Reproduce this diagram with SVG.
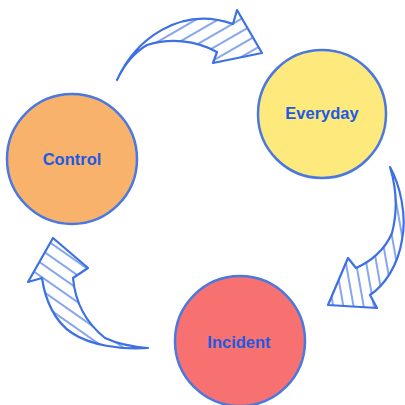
<svg xmlns="http://www.w3.org/2000/svg" width="405" height="405" viewBox="0 0 405 405">
<defs>
<pattern id="hTop" patternUnits="userSpaceOnUse" width="11" height="11" patternTransform="rotate(-30)"><line x1="0" y1="5" x2="11" y2="5" stroke="#3f72e4" stroke-width="1.5" stroke-opacity="0.85"/></pattern>
<pattern id="hRight" patternUnits="userSpaceOnUse" width="10" height="10" patternTransform="rotate(80)"><line x1="0" y1="5" x2="10" y2="5" stroke="#3f72e4" stroke-width="1.5" stroke-opacity="0.85"/></pattern>
<pattern id="hLeft" patternUnits="userSpaceOnUse" width="11" height="11" patternTransform="rotate(35)"><line x1="0" y1="5" x2="11" y2="5" stroke="#3f72e4" stroke-width="1.5" stroke-opacity="0.85"/></pattern>
</defs>
<style>
.node{stroke:#4a78e0;stroke-width:2.5}
.lbl{font-family:"Comic Sans MS","Liberation Sans",sans-serif;font-weight:bold;font-size:16.5px;fill:#1d5ae3;text-anchor:middle;dominant-baseline:central}
.arr{stroke:#3d70e3;stroke-width:2.2;stroke-linejoin:round;stroke-linecap:round}
</style>
<rect width="405" height="405" fill="#ffffff"/>
<g id="connectors">
<path class="arr" fill="url(#hTop)" d="M117,80 C135,40 180,5 233,24 L237,10 L262,53 L213,63 L217,52 C195,40 170,38 147,45 C135,52 124,65 117,80 Z"/>
<path class="arr" fill="url(#hRight)" d="M390,167 C400,185 407,215 402,240 C398,265 385,285 370,295 L377,308 L328,305 L348,258 L356,268 C370,262 385,250 392,233 C398,210 397,190 390,167 Z"/>
<path class="arr" fill="url(#hLeft)" d="M148,348 C120,350 90,345 72,333 C55,322 45,300 42,278 L28,282 L53,238 L88,268 L73,278 C75,300 85,322 105,338 C120,345 135,347 148,348 Z"/>
</g>
<g id="control">
<circle class="node" cx="72" cy="159" r="65" fill="#f9b26b"/>
<text class="lbl" x="72" y="159">Control</text>
</g>
<g id="everyday">
<circle class="node" cx="322" cy="114" r="64" fill="#fde97c" stroke="#7b9fe6"/>
<text class="lbl" x="322" y="113">Everyday</text>
</g>
<g id="incident">
<circle class="node" cx="240" cy="341" r="65" fill="#f87171"/>
<text class="lbl" x="239" y="342">Incident</text>
</g>
</svg>
